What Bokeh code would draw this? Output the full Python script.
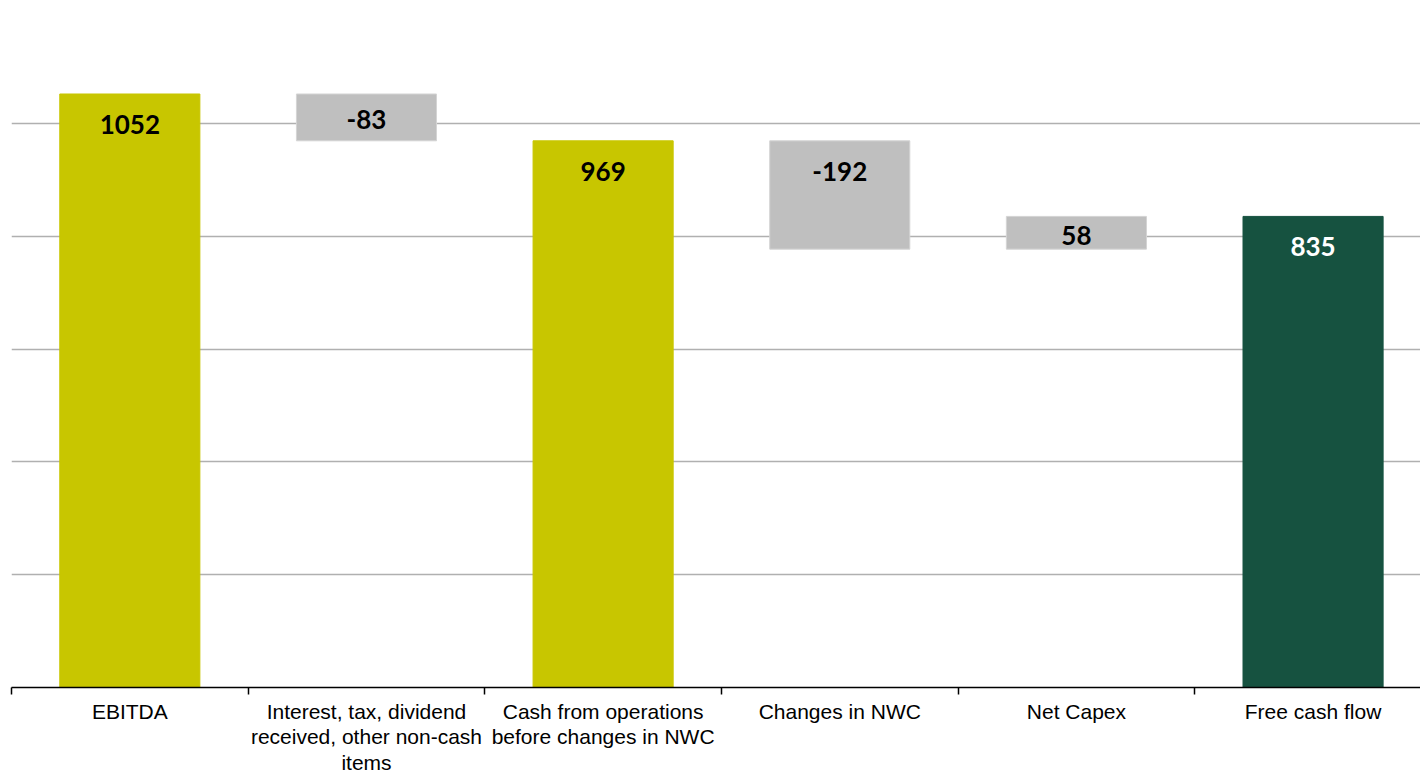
from bokeh.plotting import figure
from bokeh.models import ColumnDataSource, Range1d, FixedTicker
from bokeh.core.properties import value
from bokeh.embed import file_html
from bokeh.resources import INLINE

categories = [
    "EBITDA",
    "Interest, tax, dividend\nreceived, other non-cash\nitems",
    "Cash from operations\nbefore changes in NWC",
    "Changes in NWC",
    "Net Capex",
    "Free cash flow",
]
steps = [1052, -83, 969, -192, 58, 835]
kinds = ["total", "delta", "total", "delta", "delta", "total"]
value_labels = ["1052", "-83", "969", "-192", "58", "835"]
bar_colors = ["#C8C600", "#BFBFBF", "#C8C600", "#BFBFBF", "#BFBFBF", "#165240"]
bar_lines = ["#C8C600", "#D4D4D4", "#C8C600", "#D4D4D4", "#D4D4D4", "#165240"]
label_colors = ["#000000"] * 5 + ["#FFFFFF"]
y_ticks = [0, 200, 400, 600, 800, 1000, 1200]

FRAME_W, FRAME_H = 1409, 677
Y_MAX = 1200
ppu = FRAME_H / Y_MAX

xs = list(range(len(categories)))
bottoms, tops = [], []
running = 0
for s, k in zip(steps, kinds):
    if k == "total":
        b, t = 0, s
        running = s
    else:
        new = running + s
        b, t = min(running, new), max(running, new)
        running = new
    bottoms.append(b)
    tops.append(t)

label_y = []
for b, t in zip(bottoms, tops):
    off_px = min(30.5, (t - b) * ppu / 2 + 2.5)
    label_y.append(t - off_px / ppu)

src = ColumnDataSource(dict(x=xs, bottom=bottoms, top=tops, color=bar_colors,
                            lc=bar_lines, ly=label_y, label=value_labels,
                            tc=label_colors))

p = figure(frame_width=FRAME_W, frame_height=FRAME_H,
           x_range=Range1d(-0.5, 5.454), y_range=Range1d(0, Y_MAX),
           output_backend="svg", toolbar_location=None,
           min_border_left=11, min_border_right=0, min_border_top=10,
           min_border_bottom=0)
p.outline_line_color = None
p.background_fill_color = "white"
p.border_fill_color = "white"

p.yaxis.visible = False
p.xgrid.visible = False
p.ygrid.ticker = FixedTicker(ticks=y_ticks)
p.ygrid.grid_line_color = "#B0B0B0"
p.ygrid.grid_line_width = 1.3

p.vbar(x="x", bottom="bottom", top="top", width=0.592, fill_color="color",
       line_color="lc", line_width=1, source=src)

p.text(x="x", y="ly", text="label", text_align="center", text_baseline="middle",
       text_font=value("Lato"), text_font_style="bold", text_font_size="26px",
       text_color="tc", source=src)

ax = p.xaxis[0]
ax.ticker = FixedTicker(ticks=xs, minor_ticks=[i - 0.5 for i in range(len(categories) + 1)])
ax.major_label_overrides = {i: c for i, c in zip(xs, categories)}
ax.major_tick_line_color = None
ax.major_tick_in = 0
ax.major_tick_out = 0
ax.minor_tick_line_color = "#000000"
ax.minor_tick_line_width = 1.5
ax.minor_tick_in = 0
ax.minor_tick_out = 7
ax.axis_line_color = "#000000"
ax.axis_line_width = 1.5
ax.major_label_standoff = 5
ax.major_label_text_font = "Liberation Sans"
ax.major_label_text_font_size = "21px"
ax.major_label_text_color = "#000000"
ax.major_label_text_line_height = 1.12

open("out.html", "w").write(file_html(p, INLINE))
